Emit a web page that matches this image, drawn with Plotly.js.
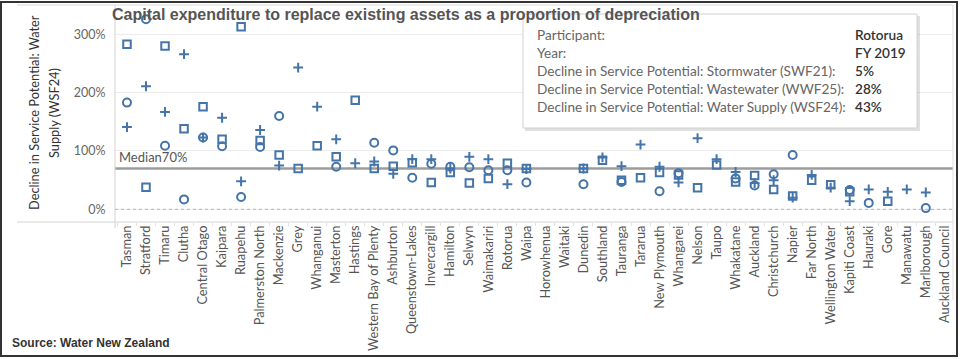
<!DOCTYPE html>
<html>
<head>
<meta charset="utf-8">
<script src="https://cdn.plot.ly/plotly-3.0.1.min.js"></script>
<style>
  html, body { margin: 0; padding: 0; background: #fff; }
  #wrap { position: relative; width: 963px; height: 359px; overflow: hidden; }
  #chart { position: absolute; left: 0; top: 0; width: 963px; height: 359px; }
  #frame { position: absolute; left: 0; top: 1px; width: 954px; height: 352px;
           border: 2px solid #333; pointer-events: none; }
</style>
</head>
<body>
<div id="wrap"><div id="chart"></div><div id="frame"></div></div>
<script>
// ---- data ----
const categories = [
  "Tasman","Stratford","Timaru","Clutha","Central Otago","Kaipara","Ruapehu",
  "Palmerston North","Mackenzie","Grey","Whanganui","Masterton","Hastings",
  "Western Bay of Plenty","Ashburton","Queenstown-Lakes","Invercargill","Hamilton",
  "Selwyn","Waimakariri","Rotorua","Waipa","Horowhenua","Waitaki","Dunedin",
  "Southland","Tauranga","Tararua","New Plymouth","Whangarei","Nelson","Taupo",
  "Whakatane","Auckland","Christchurch","Napier","Far North","Wellington Water",
  "Kapiti Coast","Hauraki","Gore","Manawatu","Marlborough","Auckland Council"
];
// circle markers
const stormwater = [183,326,109,17,123,108,21,107,160,null,null,73,null,114,101,54,78,73,
  72,67,67,46,null,null,43,null,47,null,31,62,null,null,53,41,60,93,null,null,33,11,null,null,2,null];
// square markers
const wastewater = [283,38,280,138,176,120,313,118,93,70,109,90,187,70,74,80,46,63,
  45,53,79,70,null,null,70,84,50,54,63,59,37,76,47,58,34,23,50,42,30,null,14,null,null,null];
// plus markers
const waterSupply = [141,211,167,266,123,157,48,136,75,243,176,120,79,82,61,86,86,70,
  90,86,43,69,null,null,70,89,74,111,73,46,122,86,64,45,50,20,59,37,14,34,30,34,29,null];
const yTicks = [0,100,200,300];
const yTickLabels = ["0%","100%","200%","300%"];
const medianValue = 70;

const tooltipLabels = ["Participant:","Year:",
  "Decline in Service Potential: Stormwater (SWF21):",
  "Decline in Service Potential: Wastewater (WWF25):",
  "Decline in Service Potential: Water Supply (WSF24):"];
const tooltipValues = ["Rotorua","FY 2019","5%","28%","43%"];
const yTitleLines = ["Decline in Service Potential: Water", "Supply (WSF24)"];

// ---- chart ----
const blue = '#4474a8';
const base = { x: categories, type: 'scatter', mode: 'markers', hoverinfo: 'skip', cliponaxis: false };
const traces = [
  Object.assign({}, base, { name: 'Stormwater (SWF21)', y: stormwater,
    marker: { symbol: 'circle-open', size: 8, color: blue, line: { color: blue, width: 2 } } }),
  Object.assign({}, base, { name: 'Wastewater (WWF25)', y: wastewater,
    marker: { symbol: 'square-open', size: 7.5, color: blue, line: { color: blue, width: 2 } } }),
  Object.assign({}, base, { name: 'Water Supply (WSF24)', y: waterSupply,
    marker: { symbol: 'cross-thin-open', size: 7, color: blue, line: { color: blue, width: 2 } } })
];

// pixel helpers for layout placement (plot area 115..953 x 5..222)
const PL = 115, PR = 953, PT = 5, PB = 222;
const px = x => (x - PL) / (PR - PL);
const py = y => (PB - y) / (PB - PT);

const shapes = [
  { type: 'line', xref: 'paper', yref: 'y', x0: 0, x1: 1, y0: 0, y1: 0,
    line: { color: '#b5b5b5', width: 1, dash: 'dot' } },
  { type: 'line', xref: 'paper', yref: 'y', x0: 0, x1: 1, y0: medianValue, y1: medianValue,
    line: { color: '#9c9c9c', width: 2.5 }, layer: 'below' },
  { type: 'line', xref: 'paper', yref: 'paper', x0: px(17), x1: 1, y0: 0, y1: 0,
    line: { color: '#d4d4d4', width: 1 } },
  { type: 'line', xref: 'paper', yref: 'paper', x0: px(17), x1: 1, y0: 1, y1: 1,
    line: { color: '#d9d9d9', width: 1 } },
  { type: 'line', xref: 'paper', yref: 'paper', x0: 0, x1: 0, y0: py(228), y1: 1,
    line: { color: '#d4d4d4', width: 1 } },
  { type: 'line', xref: 'paper', yref: 'paper', x0: 1, x1: 1, y0: py(300), y1: 1,
    line: { color: '#dedede', width: 1 } },
  // tooltip box with soft shadow
  { type: 'rect', xref: 'paper', yref: 'paper', x0: px(525), x1: px(920), y0: py(131), y1: py(16),
    fillcolor: 'rgba(0,0,0,0.12)', line: { width: 0 } },
  { type: 'rect', xref: 'paper', yref: 'paper', x0: px(523), x1: px(917), y0: py(128), y1: py(14),
    fillcolor: '#ffffff', line: { color: '#d0d0d0', width: 1 } }
];

const annotations = [
  { text: yTitleLines[0], xref: 'paper', yref: 'paper',
    x: px(34), y: py(113), textangle: -90, showarrow: false, xanchor: 'center', yanchor: 'middle',
    font: { family: 'Lato', size: 12.8, color: '#333' } },
  { text: yTitleLines[1], xref: 'paper', yref: 'paper',
    x: px(54), y: py(113), textangle: -90, showarrow: false, xanchor: 'center', yanchor: 'middle',
    font: { family: 'Lato', size: 12.8, color: '#333' } },
  { text: 'Median' + medianValue + '%', xref: 'paper', yref: 'y', x: px(117), y: medianValue,
    xanchor: 'left', yanchor: 'bottom', yshift: 1, showarrow: false,
    font: { family: 'Lato', size: 13, color: '#555' } },
  { text: '<b>Source: Water New Zealand</b>', xref: 'paper', yref: 'paper', x: px(10), y: py(343),
    xanchor: 'left', yanchor: 'middle', showarrow: false,
    font: { family: 'Liberation Sans', size: 12, color: '#333' } }
];
const lineY = [35, 53, 71, 89, 107];
tooltipLabels.forEach((t, i) => {
  annotations.push({ text: t, xref: 'paper', yref: 'paper', x: px(535), y: py(lineY[i]),
    xanchor: 'left', yanchor: 'middle', showarrow: false,
    font: { family: 'Lato', size: 13.6, color: '#666' } });
  annotations.push({ text: tooltipValues[i], xref: 'paper', yref: 'paper', x: px(853), y: py(lineY[i]),
    xanchor: 'left', yanchor: 'middle', showarrow: false,
    font: { family: 'Lato', size: 13.6, color: '#333', weight: 600 } });
});

const layout = {
  width: 963, height: 359,
  margin: { l: PL, r: 963 - PR, t: PT, b: 359 - PB, pad: 0 },
  paper_bgcolor: 'rgba(0,0,0,0)', plot_bgcolor: '#fff',
  showlegend: false,
  title: { text: 'Capital expenditure to replace existing assets as a proportion of depreciation',
    x: 112 / 963, xanchor: 'left', xref: 'container', y: 1 - 14 / 359, yanchor: 'middle', yref: 'container',
    font: { family: 'Liberation Sans', size: 16, color: '#555', weight: 'bold' } },
  xaxis: { type: 'category', categoryorder: 'array', categoryarray: categories,
    range: [-0.63, 43.43], tickangle: -90, showgrid: false, showline: false, zeroline: false,
    ticks: 'outside', tickson: 'boundaries', ticklen: 3, tickcolor: '#e2e2e2',
    tickfont: { family: 'Lato', size: 12.8, color: '#555' }, fixedrange: true, automargin: false },
  yaxis: { range: [-21.8, 350.4], tickmode: 'array', tickvals: yTicks, ticktext: yTickLabels,
    showgrid: true, gridcolor: '#ececec', zeroline: false, showline: false, ticks: 'outside', ticklen: 6,
    tickcolor: 'rgba(0,0,0,0)', tickfont: { family: 'Lato', size: 12.5, color: '#666' },
    fixedrange: true, automargin: false },
  shapes: shapes,
  annotations: annotations
};

Plotly.newPlot('chart', traces, layout, { displayModeBar: false, staticPlot: true });
</script>
</body>
</html>
